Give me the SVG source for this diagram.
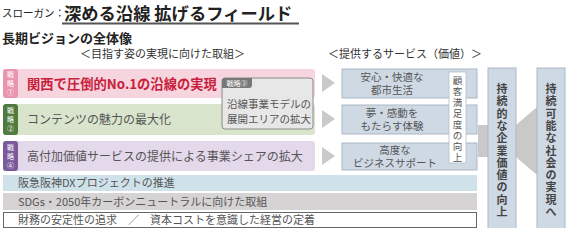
<svg xmlns="http://www.w3.org/2000/svg" width="566" height="228" viewBox="0 0 566 228">
<style>
text{font-family:"Noto Sans CJK JP","Noto Sans",sans-serif;}
.hd{font-size:11px;fill:#333;}
.row{font-size:12px;fill:#555;}
.badge{font-size:7px;fill:#fff;text-anchor:middle;}
.svc{fill:#cfd9e4;stroke:#a9b7c6;stroke-width:1;}
.svct{font-size:10.5px;fill:#555;text-anchor:middle;}
.col{fill:#cfd9e4;stroke:#a9b7c6;stroke-width:1;}
.colt{font-size:11px;font-weight:bold;fill:#444;text-anchor:middle;}
.tri{fill:#c9c9c9;}
.band{font-size:11px;fill:#555;}
</style>
<!-- title -->
<g id="title">
<text x="2" y="16.5" font-size="10.5" fill="#222">スローガン：</text>
<text x="64" y="20" font-size="17.3" font-weight="bold" fill="#222">深める沿線 拡げるフィールド</text>
<line x1="62" y1="23.5" x2="299" y2="23.5" stroke="#555" stroke-width="2"/>
<text x="2" y="43" font-size="13" fill="#222" font-weight="bold">長期ビジョンの全体像</text>
<text x="80" y="58" class="hd">＜目指す姿の実現に向けた取組＞</text>
<text x="328" y="58" class="hd">＜提供するサービス（価値）＞</text>
</g>
<!-- connectors / big arrows -->
<g id="connectors">
<polygon points="478,125 516,125 537,107 537,175 516,157 478,157" fill="#c9c9c9"/>
<polygon class="tri" points="322,74 335,83 322,92"/>
<polygon class="tri" points="322,110 335,119 322,128"/>
<polygon class="tri" points="322,147 335,156 322,165"/>
</g>
<!-- strategy 1 -->
<g id="s1">
<rect x="3" y="69" width="312" height="29" rx="3" fill="#f7d5de"/>
<rect x="3" y="69" width="15" height="29" rx="3" fill="#e995ae"/>
<text class="badge"><tspan x="10.5" y="77">戦</tspan><tspan x="10.5" y="86">略</tspan><tspan x="10.5" y="95">①</tspan></text>
<text x="27" y="88.5" font-size="13.3" font-weight="bold" fill="#c8203c">関西で圧倒的No.1の沿線の実現</text>
</g>
<!-- strategy 2 -->
<g id="s2">
<rect x="3" y="104" width="312" height="31" rx="3" fill="#d9e4cd"/>
<rect x="3" y="104" width="15" height="31" rx="3" fill="#507b3c"/>
<text class="badge"><tspan x="10.5" y="113">戦</tspan><tspan x="10.5" y="122">略</tspan><tspan x="10.5" y="131">②</tspan></text>
<text x="27" y="124" class="row">コンテンツの魅力の最大化</text>
</g>
<!-- strategy 4 -->
<g id="s4">
<rect x="3" y="141" width="312" height="30" rx="3" fill="#e4d8eb"/>
<rect x="3" y="141" width="15" height="30" rx="3" fill="#7b5a9c"/>
<text class="badge"><tspan x="10.5" y="150">戦</tspan><tspan x="10.5" y="159">略</tspan><tspan x="10.5" y="168">④</tspan></text>
<text x="27" y="161" class="row">高付加価値サービスの提供による事業シェアの拡大</text>
</g>
<!-- strategy 3 -->
<g id="s3">
<rect x="222" y="78" width="91" height="51" rx="3" fill="#e7e7e7" stroke="#8a8a8a" stroke-width="1"/>
<path d="M222,88 V81 a3,3 0 0 1 3,-3 H252 V85 a3,3 0 0 1 -3,3 Z" fill="#777"/>
<text x="237" y="86" class="badge" font-size="6.5">戦略③</text>
<text x="227" y="108" font-size="10.5" fill="#555">沿線事業モデルの</text>
<text x="227" y="123" font-size="10.5" fill="#555">展開エリアの拡大</text>
</g>
<!-- services -->
<g id="svc1">
<rect class="svc" x="342" y="69" width="135" height="29"/>
<text class="svct"><tspan x="392" y="81">安心・快適な</tspan><tspan x="392" y="94">都市生活</tspan></text>
</g>
<g id="svc2">
<rect class="svc" x="342" y="105" width="135" height="29"/>
<text class="svct"><tspan x="392" y="117">夢・感動を</tspan><tspan x="392" y="130">もたらす体験</tspan></text>
</g>
<g id="svc3">
<rect class="svc" x="342" y="143" width="135" height="27"/>
<text class="svct"><tspan x="395" y="154">高度な</tspan><tspan x="395" y="167">ビジネスサポート</tspan></text>
</g>
<g id="cs">
<rect x="449" y="72" width="17" height="91" fill="#fff" stroke="#b5c0cc" stroke-width="0.8"/>
<text font-size="9.5" fill="#555" text-anchor="middle"><tspan x="457.5" y="84">顧</tspan><tspan x="457.5" y="95">客</tspan><tspan x="457.5" y="106">満</tspan><tspan x="457.5" y="117">足</tspan><tspan x="457.5" y="128">度</tspan><tspan x="457.5" y="139">の</tspan><tspan x="457.5" y="150">向</tspan><tspan x="457.5" y="161">上</tspan></text>
</g>
<!-- bands -->
<g id="dx">
<rect x="3" y="175" width="474" height="16" fill="#cfe1e9"/>
<text x="18" y="187" class="band">阪急阪神DXプロジェクトの推進</text>
</g>
<g id="sdgs">
<rect x="3" y="193" width="474" height="17" fill="#d5d3d3"/>
<text x="18" y="205.5" class="band">SDGs・2050年カーボンニュートラルに向けた取組</text>
</g>
<g id="fin">
<rect x="3.5" y="212.5" width="473" height="15" fill="#fff" stroke="#666" stroke-width="1"/>
<text x="18" y="224" class="band">財務の安定性の追求　／　資本コストを意識した経営の定着</text>
</g>
<!-- columns -->
<g id="col1">
<rect class="col" x="488" y="68" width="28" height="162"/>
<text class="colt"><tspan x="502" y="93">持</tspan><tspan x="502" y="105.3">続</tspan><tspan x="502" y="117.6">的</tspan><tspan x="502" y="129.9">な</tspan><tspan x="502" y="142.2">企</tspan><tspan x="502" y="154.5">業</tspan><tspan x="502" y="166.8">価</tspan><tspan x="502" y="179.1">値</tspan><tspan x="502" y="191.4">の</tspan><tspan x="502" y="203.7">向</tspan><tspan x="502" y="216">上</tspan></text>
</g>
<g id="col2">
<rect class="col" x="537" y="68" width="28" height="162"/>
<text class="colt"><tspan x="551" y="93">持</tspan><tspan x="551" y="105.3">続</tspan><tspan x="551" y="117.6">可</tspan><tspan x="551" y="129.9">能</tspan><tspan x="551" y="142.2">な</tspan><tspan x="551" y="154.5">社</tspan><tspan x="551" y="166.8">会</tspan><tspan x="551" y="179.1">の</tspan><tspan x="551" y="191.4">実</tspan><tspan x="551" y="203.7">現</tspan><tspan x="551" y="216">へ</tspan></text>
</g>
</svg>
